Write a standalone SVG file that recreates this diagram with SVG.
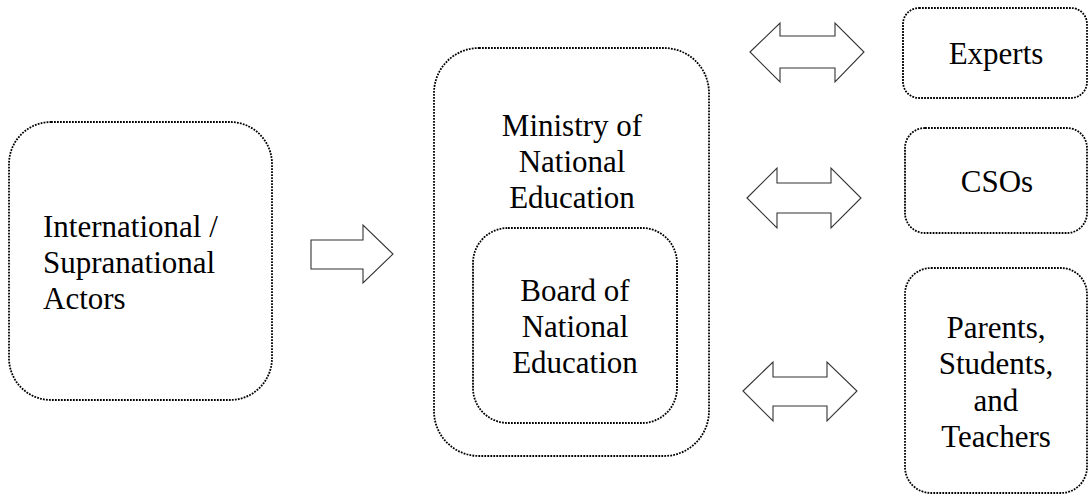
<svg xmlns="http://www.w3.org/2000/svg" width="1089" height="495" viewBox="0 0 1089 495">
  <style>
    .box { fill: #fff; stroke: #000; stroke-width: 1.8; stroke-dasharray: 1.8 1.2; }
    .arrow { fill: #fff; stroke: #333; stroke-width: 1.1; stroke-linejoin: miter; }
    .lbl { font-family: 'Liberation Serif', 'Times New Roman', Times, Tinos, 'Noto Serif', 'Nimbus Roman', FreeSerif, 'DejaVu Serif', serif; font-size: 31px; fill: #000; }
    .c { text-anchor: middle; }
  </style>
  <rect width="1089" height="495" fill="#fff"/>

  <g id="international">
    <rect class="box" x="9" y="122" width="263" height="278" rx="42" ry="42"/>
    <text class="lbl" x="43" y="237">International /</text>
    <text class="lbl" x="43" y="273">Supranational</text>
    <text class="lbl" x="43" y="309">Actors</text>
  </g>

  <g id="ministry">
    <rect class="box" x="434" y="48" width="275" height="408" rx="45" ry="45"/>
    <text class="lbl c" x="572" y="136">Ministry of</text>
    <text class="lbl c" x="572" y="172">National</text>
    <text class="lbl c" x="572" y="208">Education</text>
  </g>

  <g id="board">
    <rect class="box" x="473" y="228" width="204" height="195" rx="35" ry="35"/>
    <text class="lbl c" x="575" y="301">Board of</text>
    <text class="lbl c" x="575" y="337">National</text>
    <text class="lbl c" x="575" y="373">Education</text>
  </g>

  <g id="experts">
    <rect class="box" x="903" y="8" width="184" height="90" rx="16" ry="16"/>
    <text class="lbl c" x="996" y="64">Experts</text>
  </g>

  <g id="csos">
    <rect class="box" x="905" y="128" width="182" height="105" rx="20" ry="20"/>
    <text class="lbl c" x="997" y="192">CSOs</text>
  </g>

  <g id="stakeholders">
    <rect class="box" x="905" y="268" width="182" height="225" rx="26" ry="26"/>
    <text class="lbl c" x="996" y="338">Parents,</text>
    <text class="lbl c" x="996" y="374">Students,</text>
    <text class="lbl c" x="996" y="411">and</text>
    <text class="lbl c" x="996" y="447">Teachers</text>
  </g>

  <g id="connectors">
    <!-- one-way block arrow into the ministry -->
    <polygon class="arrow" points="311,240 363,240 363,225 393,254 363,283 363,269 311,269"/>
    <!-- two-way block arrows to the consulted groups -->
    <polygon class="arrow" points="750,52 780,23 780,36 835,36 835,23 864,52 835,82 835,68 780,68 780,82"/>
    <polygon class="arrow" points="747,198 777,168 777,183 831,183 831,168 861,198 831,228 831,213 777,213 777,228"/>
    <polygon class="arrow" points="743,391 773,362 773,377 827,377 827,362 857,391 827,421 827,406 773,406 773,421"/>
  </g>
</svg>
